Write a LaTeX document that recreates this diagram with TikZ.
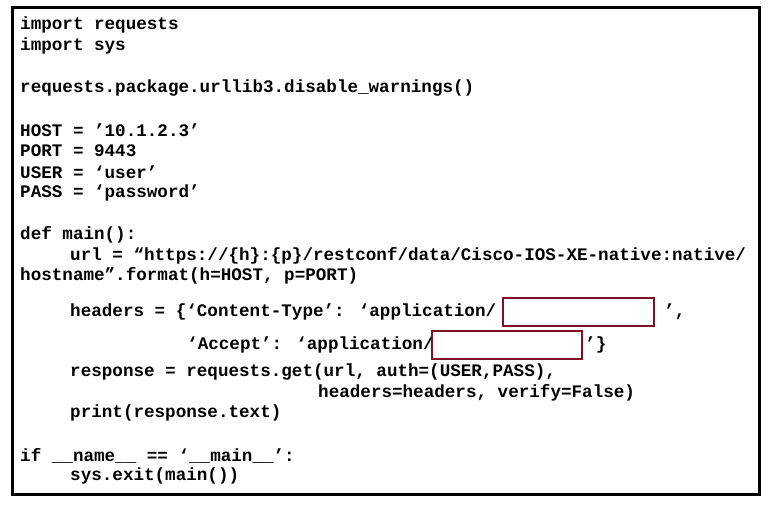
\documentclass[tikz,border=0pt]{standalone}
\usepackage{fontspec}
\newfontfamily\code{Liberation Mono}
\definecolor{boxred}{RGB}{128,16,40}
\tikzset{ln/.style={anchor=west,inner sep=0pt,font=\code\bfseries\fontsize{17.6}{20}\selectfont},
 blank/.style={draw=boxred,line width=1.2pt}}
\begin{document}
\begin{tikzpicture}[x=1pt,y=-1pt]
\useasboundingbox (0,0) rectangle (769,505);
\draw[line width=3pt] (12,8) rectangle (759,494);
\node[ln] (l1) at (20,25) {import requests};
\node[ln] (l2) at (20,46) {import sys};
\node[ln] (l3) at (20,88) {requests.package.urllib3.disable\_warnings()};
\node[ln] (l4) at (20,130) {HOST = ’10.1.2.3’};
\node[ln] (l5) at (20,151) {PORT = 9443};
\node[ln] (l6) at (20,172) {USER = ‘user’};
\node[ln] (l7) at (20,193) {PASS = ‘password’};
\node[ln] (l8) at (20,235) {def main():};
\node[ln] (l9) at (70,256) {url = “https://\{h\}:\{p\}/restconf/data/Cisco-IOS-XE-native:native/};
\node[ln] (l10) at (20,276) {hostname”.format(h=HOST, p=PORT)};
\node[ln] (l11) at (70,312) {headers = \{‘Content-Type’: ‘application/};
\draw[blank] (503,298) rectangle (654,326);
\node[ln] (l11b) at (664,312) {’,};
\node[ln] (l12) at (187,345) {‘Accept’: ‘application/};
\draw[blank] (432,331) rectangle (582,359);
\node[ln] (l12b) at (585,345) {’\}};
\node[ln] (l13) at (70,372) {response = requests.get(url, auth=(USER,PASS),};
\node[ln] (l14) at (318,393) {headers=headers, verify=False)};
\node[ln] (l15) at (70,413) {print(response.text)};
\node[ln] (l16) at (20,456) {if \_\_name\_\_ == ‘\_\_main\_\_’:};
\node[ln] (l17) at (70,476) {sys.exit(main())};
\end{tikzpicture}
\end{document}
